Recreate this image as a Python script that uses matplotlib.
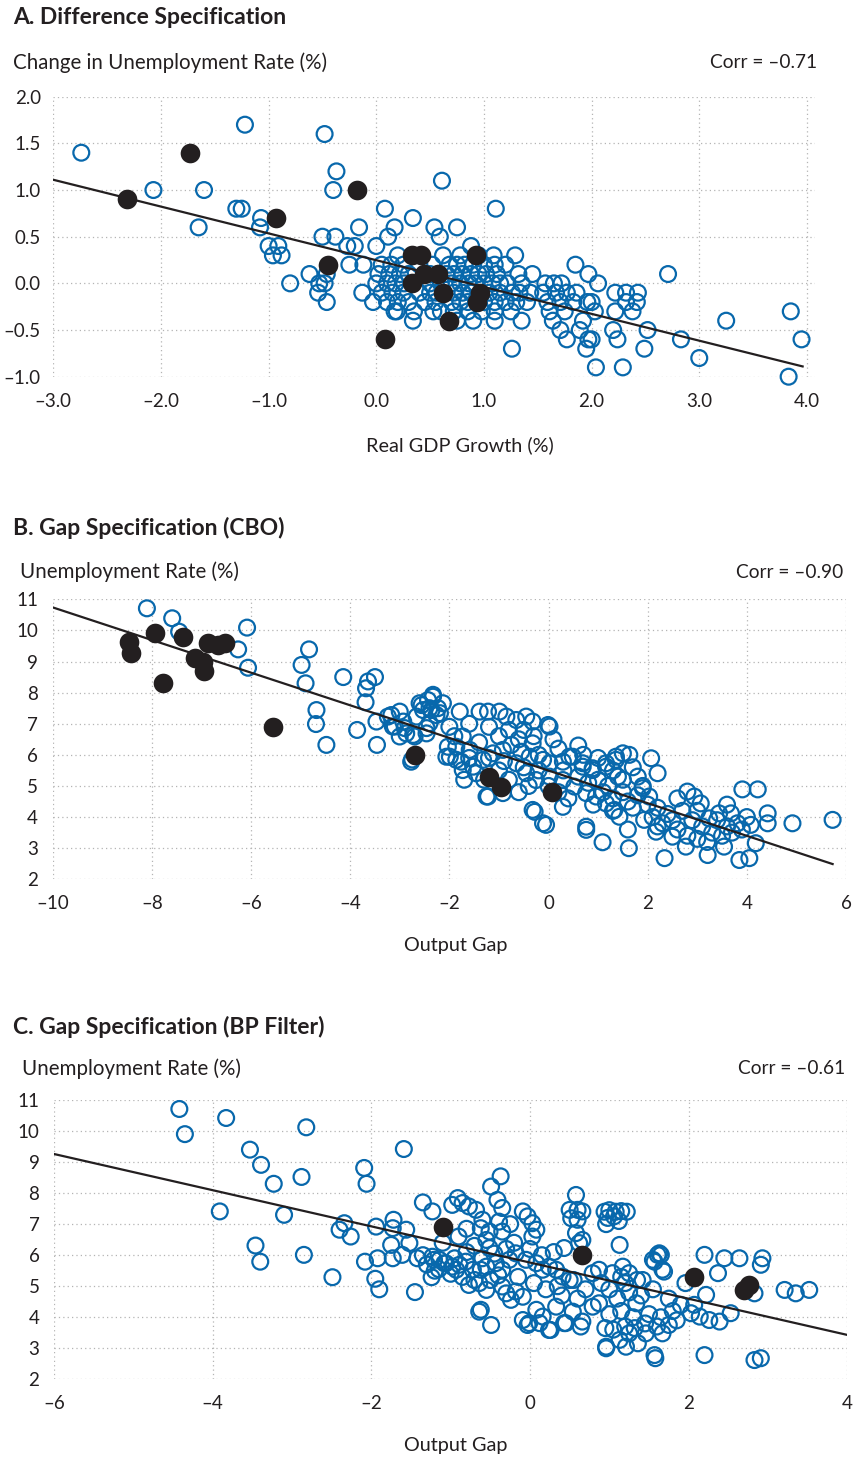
import matplotlib
matplotlib.use("Agg")
import matplotlib.pyplot as plt
import numpy as np
from matplotlib.ticker import FixedLocator, FuncFormatter

plt.rcParams["font.family"] = ["Lato", "DejaVu Sans"]

BLUE = "#0868AC"
BLACK = "#231F20"
GRID = "#b4b4b4"

# ---- Panel A: change in unemployment vs real GDP growth ----
a_open = [
    (-2.74, 1.4), (-2.07, 1.0), (-1.60, 1.0), (-1.65, 0.6), (-1.22, 1.7), (-1.30, 0.8),
    (-1.25, 0.8), (-1.07, 0.7), (-1.08, 0.6), (-1.00, 0.4), (-0.91, 0.4), (-0.96, 0.3),
    (-0.88, 0.3), (-0.80, 0.0), (-0.48, 1.6), (-0.37, 1.2), (-0.40, 1.0), (-0.62, 0.1),
    (-0.53, 0.0), (-0.54, -0.1), (-0.46, -0.2), (-0.50, 0.5), (-0.38, 0.5), (-0.46, 0.1),
    (-0.48, 0.0), (-0.16, 0.6), (-0.20, 0.4), (-0.27, 0.4), (-0.25, 0.2), (-0.12, 0.2),
    (0.08, 0.8), (0.17, 0.6), (0.11, 0.5), (0.00, 0.4), (0.34, 0.7), (0.54, 0.6),
    (0.59, 0.5), (0.75, 0.6), (0.61, 1.1), (1.11, 0.8), (0.88, 0.4), (-0.13, -0.1),
    (-0.03, -0.2), (0.10, -0.2), (0.17, -0.3), (0.34, -0.4),
    (0.20, 0.3), (0.62, 0.3), (0.78, 0.3), (1.09, 0.3), (1.29, 0.3), (0.95, 0.3),
    (0.05, 0.2), (0.14, 0.2), (0.25, 0.2), (0.40, 0.2), (0.52, 0.2), (0.68, 0.2),
    (0.75, 0.2), (0.82, 0.2), (0.90, 0.2), (1.00, 0.2), (1.10, 0.2), (1.20, 0.2),
    (0.02, 0.1), (0.12, 0.1), (0.22, 0.1), (0.30, 0.1), (0.50, 0.1), (0.58, 0.1),
    (0.65, 0.1), (0.72, 0.1), (0.80, 0.1), (0.88, 0.1), (0.95, 0.1), (1.02, 0.1),
    (1.12, 0.1), (1.32, 0.1), (1.45, 0.1), (1.97, 0.1), (2.71, 0.1), (1.85, 0.2),
    (0.00, 0.0), (0.10, 0.0), (0.18, 0.0), (0.26, 0.0), (0.50, 0.0), (0.60, 0.0),
    (0.70, 0.0), (0.78, 0.0), (0.86, 0.0), (0.92, 0.0), (1.00, 0.0), (1.08, 0.0),
    (1.15, 0.0), (1.22, 0.0), (1.35, 0.0), (1.57, 0.0), (1.65, 0.0), (1.72, 0.0),
    (2.06, 0.0),
    (0.05, -0.1), (0.15, -0.1), (0.25, -0.1), (0.40, -0.1), (0.50, -0.1), (0.56, -0.1),
    (0.72, -0.1), (0.80, -0.1), (0.88, -0.1), (1.05, -0.1), (1.15, -0.1), (1.26, -0.1),
    (1.33, -0.1), (1.43, -0.1), (1.55, -0.1), (1.67, -0.1), (1.77, -0.1), (1.86, -0.1),
    (2.22, -0.1), (2.32, -0.1), (2.43, -0.1),
    (0.20, -0.2), (0.30, -0.2), (0.45, -0.2), (0.55, -0.2), (0.70, -0.2), (0.78, -0.2),
    (0.85, -0.2), (1.00, -0.2), (1.10, -0.2), (1.20, -0.2), (1.30, -0.2), (1.40, -0.2),
    (1.59, -0.2), (1.71, -0.2), (1.83, -0.2), (1.96, -0.2), (2.00, -0.2), (2.32, -0.2),
    (2.42, -0.2),
    (0.19, -0.3), (0.35, -0.3), (0.53, -0.3), (0.60, -0.3), (0.72, -0.3), (0.85, -0.3),
    (0.98, -0.3), (1.10, -0.3), (1.25, -0.3), (1.61, -0.3), (1.75, -0.3), (2.03, -0.3),
    (2.22, -0.3), (2.38, -0.3), (3.85, -0.3),
    (0.75, -0.4), (0.90, -0.4), (1.10, -0.4), (1.35, -0.4), (1.64, -0.4), (1.92, -0.4),
    (3.25, -0.4), (1.71, -0.5), (1.89, -0.5), (2.20, -0.5), (2.52, -0.5),
    (1.77, -0.6), (1.97, -0.6), (2.00, -0.6), (2.24, -0.6), (2.83, -0.6), (3.95, -0.6),
    (1.26, -0.7), (1.95, -0.7), (2.49, -0.7), (3.00, -0.8), (2.04, -0.9), (2.29, -0.9),
    (3.83, -1.0),
]
a_filled = [
    (-2.32, 0.9), (-1.73, 1.4), (-0.93, 0.7), (-0.18, 1.0), (-0.45, 0.2), (0.08, -0.6),
    (0.33, 0.3), (0.42, 0.3), (0.33, 0.0), (0.44, 0.1), (0.57, 0.1), (0.62, -0.1),
    (0.68, -0.4), (0.93, 0.3), (0.96, -0.1), (0.94, -0.2),
]
a_fit_x = [-3.0, 3.96]
a_fit_y = [1.11, -0.89]

# ---- Panel B: unemployment vs CBO output gap ----
b_open = [
    (-8.10, 10.71), (-7.59, 10.39), (-7.45, 9.96), (-6.08, 10.09), (-6.26, 9.39), (-6.06, 8.80),
    (-4.83, 9.39), (-4.98, 8.89), (-4.90, 8.30), (-4.14, 8.50), (-3.50, 8.50), (-3.64, 8.36),
    (-3.68, 8.14), (-3.69, 7.69), (-4.68, 7.44), (-4.69, 6.99), (-4.48, 6.32), (-3.86, 6.80),
    (-3.46, 6.32), (-3.47, 7.07), (-3.17, 7.28), (-3.00, 7.39), (-3.10, 6.91), (-2.93, 7.07),
    (-2.87, 6.69), (-3.00, 6.59), (-2.70, 6.59), (-2.46, 6.69), (-2.77, 5.78), (-2.75, 5.85),
    (-2.60, 7.66), (-2.43, 7.76), (-2.33, 7.93), (-2.53, 7.44), (-2.36, 7.44), (-2.23, 7.50),
    (-2.13, 7.66), (-2.19, 7.34), (-2.33, 7.87), (-2.40, 7.50), (-2.26, 7.28), (-2.56, 7.60),
    (-3.24, 7.23), (-3.14, 6.91), (-2.90, 6.86), (-2.73, 6.64), (-2.46, 6.86), (-2.66, 7.23),
    (-2.40, 7.02),
    (-1.79, 7.39), (-1.39, 7.39), (-1.22, 7.39), (-0.99, 7.39), (-0.85, 7.23), (-0.65, 7.12),
    (-0.45, 7.23), (-0.32, 7.07), (-0.01, 6.96), (-1.73, 6.59), (-1.86, 6.26), (-1.59, 6.16),
    (-1.99, 5.94), (-1.76, 5.78), (-1.52, 5.62), (-1.32, 5.84), (-1.12, 6.05), (-0.92, 6.16),
    (-0.75, 6.32), (-0.55, 6.10), (-0.38, 5.94), (-0.32, 6.37), (-0.11, 5.84), (0.02, 5.73),
    (0.29, 5.78), (0.42, 5.94), (0.69, 5.62), (0.89, 5.51), (1.16, 5.62), (1.36, 5.84),
    (1.50, 6.05), (-0.65, 5.73), (-0.45, 5.41), (-0.25, 5.19), (0.02, 5.30), (0.29, 5.19),
    (0.52, 4.98), (0.76, 4.77), (0.96, 4.66), (1.16, 4.44), (1.33, 4.23), (1.43, 4.01),
    (-0.32, 4.23), (-0.11, 3.80), (0.29, 4.33), (0.76, 3.69), (-1.25, 4.66), (-0.92, 4.77),
    (-1.46, 5.41), (-1.73, 5.51), (-2.06, 5.94), (-2.03, 6.26), (-1.86, 5.84),
    (0.02, 6.91), (0.49, 5.94), (0.69, 5.73), (0.89, 5.57), (1.16, 5.73), (1.36, 5.94),
    (1.63, 6.00), (2.07, 5.89), (2.20, 5.41), (-1.22, 4.66), (-0.28, 4.17), (-0.05, 3.75),
    (0.76, 3.59), (1.09, 3.19), (1.62, 3.00), (1.90, 4.93), (2.03, 4.66), (1.93, 3.91),
    (2.17, 3.53), (2.34, 2.68), (2.60, 4.60), (2.80, 4.82), (2.94, 4.66), (3.07, 4.44),
    (2.50, 3.37), (2.77, 3.05), (3.21, 2.78), (3.54, 3.05), (3.24, 3.96), (3.44, 4.12),
    (3.68, 4.12), (3.81, 3.80), (3.91, 4.89), (4.22, 4.89), (4.08, 3.75), (4.18, 3.16),
    (3.85, 2.62), (4.05, 2.68), (4.42, 4.12), (4.42, 3.80), (4.92, 3.80), (5.73, 3.91),
    (2.20, 4.30), (2.40, 4.10), (2.50, 3.90), (2.70, 4.20), (2.90, 3.90), (3.00, 4.20),
    (3.10, 3.70), (3.30, 3.50), (3.40, 3.90), (3.60, 3.70), (2.30, 3.80), (2.60, 3.60),
    (2.80, 3.40), (3.00, 3.30), (3.20, 3.20), (3.50, 3.40), (3.70, 3.50), (2.10, 4.00),
    (2.20, 3.70), (1.70, 4.30), (1.80, 4.70), (1.60, 4.50), (2.00, 4.40), (3.90, 3.60),
    (4.00, 4.00), (3.60, 4.40),
    (0.60, 5.30), (0.80, 5.10), (1.00, 5.20), (1.20, 5.00), (1.40, 5.30), (1.50, 4.80),
    (1.30, 4.60), (1.10, 4.80), (0.90, 4.40), (0.40, 4.60), (0.20, 4.80), (0.00, 5.00),
    (-0.20, 5.50), (-0.40, 5.00), (-0.60, 4.80), (-0.80, 5.20), (-1.00, 5.50), (-1.20, 5.90),
    (-1.40, 6.40), (-1.60, 5.90), (-1.00, 6.60), (-0.60, 6.50), (-0.20, 6.00), (0.20, 6.20),
    (0.60, 6.30), (1.00, 5.90), (1.30, 5.50), (1.80, 5.30), (-0.50, 5.60), (-0.90, 5.80),
    (-1.30, 5.20), (-1.70, 5.20), (-1.90, 6.60), (-2.00, 6.90), (-1.60, 7.00), (-1.20, 6.90),
    (-0.80, 6.80), (-0.50, 6.80), (-0.30, 6.60), (0.10, 6.50), (0.30, 5.50), (0.70, 6.00),
    (1.50, 5.20), (1.70, 5.60), (1.90, 5.00), (1.30, 4.20), (1.60, 3.60),
]
b_filled = [
    (-8.46, 9.64), (-8.43, 9.29), (-7.94, 9.91), (-7.38, 9.80), (-7.78, 8.30), (-7.13, 9.11),
    (-6.96, 9.00), (-6.94, 8.70), (-6.86, 9.61), (-6.66, 9.53), (-6.53, 9.61), (-5.55, 6.91),
    (-2.70, 6.00), (-1.20, 5.30), (-0.95, 4.98), (0.07, 4.80),
]
b_fit_x = [-10.0, 5.73]
b_fit_y = [10.74, 2.49]

# ---- Panel C: unemployment vs BP-filter output gap ----
c_open = [
    (-4.42, 10.71), (-4.35, 9.90), (-3.83, 10.42), (-2.82, 10.12), (-3.53, 9.40), (-3.39, 8.91),
    (-3.23, 8.30), (-2.88, 8.52), (-3.91, 7.41), (-3.10, 7.30), (-3.46, 6.31), (-3.40, 5.79),
    (-2.85, 6.01), (-2.49, 5.29), (-2.40, 6.82), (-2.34, 7.03), (-2.26, 6.60), (-2.09, 8.81),
    (-2.06, 8.30), (-1.59, 9.42), (-2.08, 5.79), (-1.92, 5.90), (-1.95, 5.24), (-1.90, 4.90),
    (-1.94, 6.92), (-1.72, 7.14), (-1.73, 6.87), (-1.56, 6.82), (-1.52, 6.39), (-1.75, 6.33),
    (-1.73, 5.90), (-1.61, 6.01), (-1.42, 5.90), (-1.45, 4.81), (-1.35, 7.70), (-1.23, 7.41),
    (-1.24, 5.29),
    (-0.98, 7.62), (-0.91, 7.84), (-0.85, 7.68), (-0.77, 7.57), (-0.68, 7.46), (-0.49, 8.21),
    (-0.37, 8.54), (-0.41, 7.78), (-0.35, 7.52), (-0.39, 7.08), (-0.35, 6.76), (-0.60, 7.14),
    (-0.62, 6.87), (-0.51, 6.76), (-0.55, 6.49), (-0.51, 6.23), (-0.09, 7.41), (-0.03, 7.25),
    (0.03, 7.03), (0.03, 6.60), (0.08, 6.82), (0.58, 7.94), (0.50, 7.46), (0.60, 7.46),
    (0.66, 7.41), (0.52, 7.19), (0.60, 7.14), (0.58, 6.71), (0.66, 6.49), (0.43, 6.23),
    (0.94, 7.40), (1.00, 7.45), (1.08, 7.40), (1.15, 7.42), (1.22, 7.40), (0.98, 7.20),
    (1.06, 7.25), (1.12, 7.10), (0.96, 7.00), (1.13, 6.33), (0.62, 6.39),
    (-1.23, 5.95), (-1.14, 5.85), (-1.06, 5.74), (-0.98, 5.63), (-0.89, 5.69), (-0.81, 5.79),
    (-0.72, 5.53), (-0.62, 5.53), (-0.55, 5.63), (-0.43, 5.74), (-0.35, 5.53), (-0.26, 5.85),
    (-0.18, 6.06), (-0.05, 5.85), (0.08, 5.74), (0.16, 5.53), (0.24, 5.63), (0.33, 5.53),
    (0.41, 5.31), (0.50, 5.20), (0.79, 5.42), (0.87, 5.53), (1.04, 5.42), (1.17, 5.63),
    (1.25, 5.42), (1.42, 5.20), (1.55, 5.85), (1.63, 6.06), (1.67, 5.53),
    (-0.77, 5.04), (-0.64, 5.10), (-0.55, 4.88), (-0.35, 4.99), (-0.30, 4.77), (-0.24, 4.56),
    (-0.18, 4.83), (-0.09, 4.66), (-0.62, 4.24), (-0.49, 3.75),
    (-0.09, 3.91), (-0.01, 3.81), (0.08, 4.24), (0.16, 4.02), (0.24, 3.59), (0.33, 4.34),
    (0.43, 3.81), (0.54, 4.18), (0.66, 3.86), (0.79, 4.34), (0.87, 4.45),
    (0.96, 3.05), (1.13, 3.27), (1.25, 3.48), (1.34, 4.45), (1.46, 3.48), (1.57, 2.78),
    (1.67, 3.48),
    (1.61, 6.01), (1.65, 6.01), (1.57, 5.79), (1.69, 5.47), (2.20, 6.01), (2.45, 5.90),
    (2.64, 5.90), (2.93, 5.90), (2.91, 5.69), (2.37, 5.42), (1.96, 5.10), (2.22, 4.72),
    (2.83, 4.77), (3.21, 4.88), (3.35, 4.77), (3.52, 4.88), (2.53, 4.13), (2.39, 3.86),
    (2.26, 3.91), (2.14, 4.02), (2.03, 4.13), (2.07, 4.40), (2.20, 2.78), (2.83, 2.62),
    (2.91, 2.68), (1.58, 2.68), (0.96, 3.00), (1.21, 3.05), (1.36, 3.16), (-0.64, 4.18),
    (-0.03, 3.75), (0.12, 3.81), (0.26, 3.59), (0.45, 3.81), (0.64, 3.70),
    (0.95, 3.65), (1.05, 3.60), (1.20, 3.70), (1.32, 3.65), (1.45, 3.80), (1.60, 3.70),
    (1.75, 3.75), (1.85, 3.90), (1.00, 4.10), (1.15, 4.20), (1.30, 4.00), (1.50, 4.10),
    (1.65, 4.00), (1.80, 4.20), (1.90, 4.40), (1.10, 4.60), (1.25, 4.80), (1.40, 4.70),
    (1.55, 4.90), (1.75, 4.60), (1.20, 5.10), (1.00, 4.90), (0.90, 5.10), (0.70, 4.90),
    (0.60, 4.60), (0.40, 4.70), (0.20, 4.90), (0.05, 5.10), (-0.15, 5.30), (0.35, 5.00),
    (0.55, 5.20), (1.35, 5.20), (1.15, 5.30),
    (-1.00, 5.40), (-0.85, 5.30), (-0.70, 5.20), (-0.50, 5.20), (-0.40, 5.35), (-0.95, 5.90),
    (-0.80, 6.10), (-0.70, 6.30), (-0.45, 6.05), (-0.30, 6.20), (-0.20, 6.40), (0.00, 6.20),
    (0.15, 6.00), (0.30, 6.10), (-1.15, 5.55), (-1.30, 5.70), (-1.35, 6.00), (-1.10, 6.40),
    (-0.90, 6.60), (-0.80, 6.85), (-0.25, 7.00), (-1.20, 5.50), (-0.60, 5.90), (-1.21, 5.85),
    (-1.08, 5.74), (-0.93, 5.53),
]
c_filled = [(-1.10, 6.92), (0.66, 6.01), (2.07, 5.31), (2.70, 4.88), (2.76, 5.04)]
c_fit_x = [-6.0, 4.0]
c_fit_y = [9.26, 3.43]

PANELS = [
    dict(title="A. Difference Specification", ylabel="Change in Unemployment Rate (%)",
         corr="Corr = \u20130.71", xlabel="Real GDP Growth (%)",
         open=a_open, filled=a_filled, fit=(a_fit_x, a_fit_y),
         xlim=(-3.0, 4.075), ylim=(-1.0, 2.0),
         xticks=np.arange(-3, 4.01, 1.0), yticks=np.arange(-1, 2.01, 0.5), fmt="{:.1f}",
         box=(53.3, 815, 96.7, 376.7), title_y=17, label_y=63, label_x=13, corr_x=817,
         xlabel_xy=(460, 445), ypad=9),
    dict(title="B. Gap Specification (CBO)", ylabel="Unemployment Rate (%)",
         corr="Corr = \u20130.90", xlabel="Output Gap",
         open=b_open, filled=b_filled, fit=(b_fit_x, b_fit_y),
         xlim=(-10, 6), ylim=(2, 11),
         xticks=np.arange(-10, 6.1, 2), yticks=np.arange(2, 11.1, 1), fmt="{:.0f}",
         box=(52.7, 846, 599.3, 879.3), title_y=528, label_y=572, label_x=20, corr_x=843,
         xlabel_xy=(456, 945), ypad=10.5),
    dict(title="C. Gap Specification (BP Filter)", ylabel="Unemployment Rate (%)",
         corr="Corr = \u20130.61", xlabel="Output Gap",
         open=c_open, filled=c_filled, fit=(c_fit_x, c_fit_y),
         xlim=(-6, 4), ylim=(2, 11),
         xticks=np.arange(-6, 4.1, 2), yticks=np.arange(2, 11.1, 1), fmt="{:.0f}",
         box=(54, 847.3, 1100, 1379.3), title_y=1027, label_y=1069, label_x=22, corr_x=845,
         xlabel_xy=(456, 1446), ypad=10.5),
]

W, H = 857, 1460
fig = plt.figure(figsize=(W / 100, H / 100), dpi=100)


def fx(px):
    return px / W


def fy(py):
    return 1 - py / H


for p in PANELS:
    x0, x1, y0, y1 = p["box"]
    ax = fig.add_axes([fx(x0), fy(y1), fx(x1) - fx(x0), (y1 - y0) / H])
    ax.set_xlim(*p["xlim"])
    ax.set_ylim(*p["ylim"])
    for s in ax.spines.values():
        s.set_visible(False)
    ax.xaxis.set_major_locator(FixedLocator(p["xticks"]))
    ax.yaxis.set_major_locator(FixedLocator(p["yticks"]))
    fmt = p["fmt"]
    f = FuncFormatter(lambda v, pos, fmt=fmt: fmt.format(v + 0.0).replace("-", "\u2013"))
    ax.xaxis.set_major_formatter(f)
    ax.yaxis.set_major_formatter(f)
    ax.tick_params(axis="both", length=0, labelsize=13.5, colors=BLACK)
    ax.tick_params(axis="x", pad=11.5)
    ax.tick_params(axis="y", pad=p["ypad"])
    ax.grid(True, color=GRID, linestyle=(0, (1, 2.5)), linewidth=0.9)
    ax.set_axisbelow(True)

    ox, oy = np.array(p["open"]).T
    ax.scatter(ox, oy, s=130, facecolors="none", edgecolors=BLUE, linewidths=1.6,
               clip_on=False, zorder=2)
    ax.plot(p["fit"][0], p["fit"][1], color=BLACK, linewidth=1.6, zorder=3)
    bx, by = np.array(p["filled"]).T
    ax.scatter(bx, by, s=200, color=BLACK, linewidths=0, clip_on=False, zorder=4)

    fig.text(fx(13), fy(p["title_y"]), p["title"], fontsize=16.5, fontweight="bold",
             color=BLACK, ha="left", va="center")
    fig.text(fx(p["label_x"]), fy(p["label_y"]), p["ylabel"], fontsize=14.8,
             color=BLACK, ha="left", va="center")
    fig.text(fx(p["corr_x"]), fy(p["label_y"]), p["corr"], fontsize=13.8,
             color=BLACK, ha="right", va="center")
    lx, ly = p["xlabel_xy"]
    fig.text(fx(lx), fy(ly), p["xlabel"], fontsize=14.3, color=BLACK,
             ha="center", va="center")

fig.savefig("out.png", dpi=100)
